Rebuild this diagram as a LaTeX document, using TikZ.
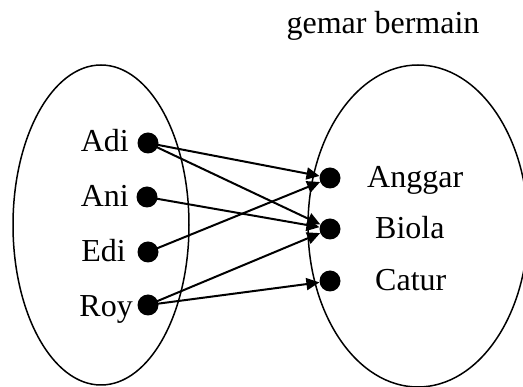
\documentclass[tikz,border=0pt]{standalone}
\usepackage{fontspec}
\setmainfont{Liberation Serif}
\usetikzlibrary{arrows.meta}
\begin{document}
\begin{tikzpicture}[x=1pt,y=-1pt,
  dot/.style={circle,fill=black,inner sep=0pt,minimum size=21pt},
  lbl/.style={inner sep=0pt,font=\fontsize{32}{38}\selectfont},
  setline/.style={line width=1.5pt},
  rel/.style={line width=2pt,-{Triangle[length=13pt,width=12pt]}}]
\useasboundingbox (0,0) rectangle (523,387);
% the two sets
\draw[setline] (101,225) ellipse [x radius=88, y radius=160];
\draw[setline] (418,226) ellipse [x radius=110, y radius=161];
% title of the relation
\node[lbl,anchor=base] (title) at (383,34) {gemar bermain};
% domain
\node[dot] (adi) at (148,143) {};
\node[dot] (ani) at (147,197) {};
\node[dot] (edi) at (148,252) {};
\node[dot] (roy) at (148,305) {};
\node[lbl,anchor=base east] (tadi) at (129,152) {Adi};
\node[lbl,anchor=base east] (tani) at (129,207) {Ani};
\node[lbl,anchor=base east] (tedi) at (126,262) {Edi};
\node[lbl,anchor=base east] (troy) at (133,317) {Roy};
% codomain
\node[dot] (anggar) at (330,178) {};
\node[dot] (biola) at (330,229) {};
\node[dot] (catur) at (330,281) {};
\node[lbl,anchor=base west] (tanggar) at (367,188) {Anggar};
\node[lbl,anchor=base west] (tbiola) at (375,239) {Biola};
\node[lbl,anchor=base west] (tcatur) at (375,291) {Catur};
% relation arrows
\draw[rel] (adi.center) -- (anggar);
\draw[rel] (adi.center) -- (biola);
\draw[rel] (ani.center) -- (biola);
\draw[rel] (edi.center) -- (anggar);
\draw[rel] (roy.center) -- (biola);
\draw[rel] (roy.center) -- (catur);
\end{tikzpicture}
\end{document}
